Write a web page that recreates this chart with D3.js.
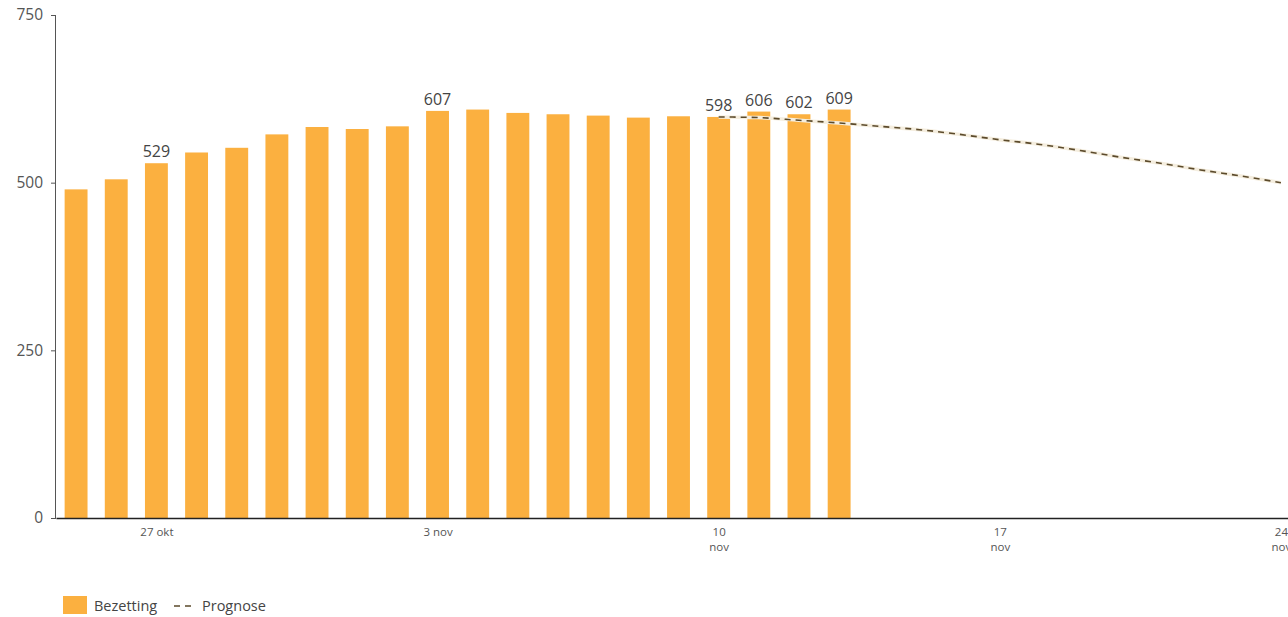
<!DOCTYPE html>
<html>
<head>
<meta charset="utf-8">
<script src="https://cdn.jsdelivr.net/npm/d3@7"></script>
<style>
  html, body { margin: 0; padding: 0; background: #fff; }
  svg { display: block; }
  text { font-family: "Open Sans", "Noto Sans", sans-serif; }
</style>
</head>
<body>
<svg id="chart" width="1288" height="617"></svg>
<script>
// Data
const barDates = ["2024-10-25","2024-10-26","2024-10-27","2024-10-28","2024-10-29","2024-10-30","2024-10-31",
  "2024-11-01","2024-11-02","2024-11-03","2024-11-04","2024-11-05","2024-11-06","2024-11-07","2024-11-08",
  "2024-11-09","2024-11-10","2024-11-11","2024-11-12","2024-11-13"];
const bezetting = [490, 505, 529, 545, 552, 572, 583, 580, 584, 607, 609, 604, 602, 600, 597, 599, 598, 606, 602, 609];
const labelledDates = ["2024-10-27","2024-11-03","2024-11-10","2024-11-11","2024-11-12","2024-11-13"];
const prognoseDates = ["2024-11-10","2024-11-11","2024-11-12","2024-11-13","2024-11-14","2024-11-15","2024-11-16",
  "2024-11-17","2024-11-18","2024-11-19","2024-11-20","2024-11-21","2024-11-22","2024-11-23","2024-11-24"];
const prognose = [598, 597, 593, 589, 584, 579, 572, 564, 557, 548, 538, 529, 519, 510, 500];
const xTickDates = ["2024-10-27","2024-11-03","2024-11-10","2024-11-17","2024-11-24"];
const xTickLabels = [["27 okt"],["3 nov"],["10","nov"],["17","nov"],["24","nov"]];
const yTicks = [0, 250, 500, 750];

const parse = d3.utcParse("%Y-%m-%d");
const svg = d3.select("#chart");
const mLeft = 56, mBottom = 518, mTop = 15;

const x = d3.scaleUtc()
  .domain([d3.utcHour.offset(parse("2024-10-24"), 12), d3.utcHour.offset(parse("2024-11-24"), 12)])
  .range([mLeft, 1301]);
const y = d3.scaleLinear().domain([0, 750]).range([mBottom, mTop]);

const dayW = x(parse("2024-10-26")) - x(parse("2024-10-25"));
const barW = dayW * 0.57;

const barData = barDates.map((d, i) => ({ date: parse(d), v: bezetting[i], key: d }));

// Bars
svg.append("g").selectAll("rect")
  .data(barData)
  .join("rect")
  .attr("x", d => x(d.date) - barW / 2)
  .attr("y", d => y(d.v))
  .attr("width", barW)
  .attr("height", d => y(0) - y(d.v))
  .attr("fill", "#fbb040");

// Prognose line
const line = d3.line()
  .x((d, i) => x(parse(prognoseDates[i])))
  .y(d => y(d))
  .curve(d3.curveMonotoneX);
svg.append("path")
  .datum(prognose)
  .attr("d", line)
  .attr("fill", "none")
  .attr("stroke", "#f5eedf")
  .attr("stroke-width", 3.5);
svg.append("path")
  .datum(prognose)
  .attr("d", line)
  .attr("fill", "none")
  .attr("stroke", "#5b4a2b")
  .attr("stroke-width", 1.6)
  .attr("stroke-dasharray", "6,5");

// Bar labels
svg.append("g").selectAll("text")
  .data(barData.filter(d => labelledDates.includes(d.key)))
  .join("text")
  .attr("x", d => x(d.date))
  .attr("y", d => y(d.v) - 6)
  .attr("text-anchor", "middle")
  .attr("font-size", 16)
  .attr("fill", "#444")
  .text(d => d.v);

// Y axis
const yAxis = svg.append("g")
  .attr("transform", `translate(${mLeft},0)`)
  .call(d3.axisLeft(y).tickValues(yTicks).tickSize(5).tickPadding(8));
yAxis.select(".domain").attr("stroke", "#555").attr("d", `M-0.5,${mTop}V${mBottom}`);
yAxis.selectAll(".tick line").attr("stroke", "#555");
yAxis.selectAll(".tick text").attr("font-size", 15.5).attr("fill", "#555")
  .attr("font-family", "\"Open Sans\", sans-serif");

// X axis
const xAxis = svg.append("g")
  .attr("transform", `translate(0,${mBottom})`)
  .call(d3.axisBottom(x).tickValues(xTickDates.map(parse)).tickSize(0).tickFormat(""));
xAxis.select(".domain").attr("stroke", "#222").attr("stroke-width", 1.3);
xAxis.selectAll(".tick").each(function(d, i) {
  const t = d3.select(this).append("text")
    .attr("text-anchor", "middle")
    .attr("font-size", 11.5)
    .attr("fill", "#555");
  xTickLabels[i].forEach((s, j) => {
    t.append("tspan").attr("x", 0).attr("y", 18 + j * 14.5).text(s);
  });
});

// Legend
const lg = svg.append("g");
lg.append("rect").attr("x", 63).attr("y", 596).attr("width", 24).attr("height", 18).attr("fill", "#fbb040");
lg.append("text").attr("x", 94).attr("y", 611).attr("font-size", 14.5).attr("fill", "#444").text("Bezetting");
lg.append("line").attr("x1", 174).attr("x2", 192).attr("y1", 606).attr("y2", 606)
  .attr("stroke", "#5b4a2b").attr("stroke-width", 1.4).attr("stroke-dasharray", "6,5");
lg.append("text").attr("x", 202).attr("y", 611).attr("font-size", 14.5).attr("fill", "#444").text("Prognose");
</script>
</body>
</html>
